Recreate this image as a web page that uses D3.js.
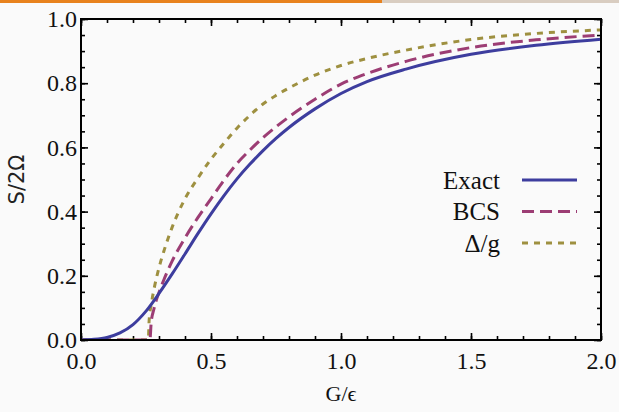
<!DOCTYPE html>
<html>
<head>
<meta charset="utf-8">
<title>S/2Omega vs G/eps</title>
<script src="https://cdn.jsdelivr.net/npm/d3@7"></script>
<style>
body { margin:0; background:#fafafa; }
svg { display:block; }
</style>
</head>
<body>
<script>
// exact solution
var exactG = [0, 0.05, 0.1, 0.15, 0.2, 0.25, 0.3, 0.35, 0.4, 0.45, 0.5, 0.55, 0.6, 0.65, 0.7, 0.75, 0.8, 0.9, 1.0, 1.1, 1.25, 1.5, 1.75, 2.0];
var exactS = [0, 0.002, 0.008, 0.022, 0.048, 0.090, 0.145, 0.205, 0.268, 0.332, 0.393, 0.450, 0.502, 0.548, 0.590, 0.628, 0.662, 0.720, 0.768, 0.805, 0.844, 0.890, 0.918, 0.937];

// BCS
var bcsG = [0, 0.265, 0.27, 0.28, 0.29, 0.3, 0.32, 0.35, 0.4, 0.45, 0.5, 0.55, 0.6, 0.65, 0.7, 0.75, 0.8, 0.9, 1.0, 1.1, 1.25, 1.5, 1.75, 2.0];
var bcsS = [0, 0, 0.055, 0.095, 0.125, 0.148, 0.19, 0.245, 0.318, 0.382, 0.44, 0.498, 0.55, 0.592, 0.630, 0.664, 0.695, 0.750, 0.797, 0.830, 0.868, 0.911, 0.935, 0.950];

// Delta/g
var gapG = [0, 0.259, 0.262, 0.27, 0.28, 0.3, 0.32, 0.35, 0.4, 0.45, 0.5, 0.55, 0.6, 0.65, 0.7, 0.75, 0.8, 0.9, 1.0, 1.1, 1.25, 1.5, 1.75, 2.0];
var gapS = [0, 0, 0.06, 0.11, 0.155, 0.225, 0.28, 0.35, 0.44, 0.505, 0.563, 0.613, 0.660, 0.700, 0.735, 0.762, 0.785, 0.825, 0.855, 0.877, 0.903, 0.936, 0.955, 0.966];

var xTicks = [0, 0.5, 1.0, 1.5, 2.0];
var yTicks = [0, 0.2, 0.4, 0.6, 0.8, 1.0];
var legendNames = ["Exact", "BCS", "\u0394/g"];

var W = 619, H = 412;
var m = {left:81, right:18, top:19, bottom:72};
var SERIF = "'Liberation Serif', 'DejaVu Serif', Times, serif";

var svg = d3.select("body").append("svg").attr("width", W).attr("height", H);

// top strip
svg.append("rect").attr("x",0).attr("y",0).attr("width",382).attr("height",3).attr("fill","#e8821e");
svg.append("rect").attr("x",382).attr("y",0).attr("width",W-382).attr("height",3).attr("fill","#d9cdc1");

var x = d3.scaleLinear().domain([0,2]).range([m.left, W-m.right]);
var y = d3.scaleLinear().domain([0,1]).range([H-m.bottom, m.top]);

var fmt = d3.format(".1f");

function styleAxis(g, labels){
  g.select(".domain").remove();
  g.attr("font-family", SERIF).attr("font-size", 24);
  g.selectAll(".tick line").attr("stroke","#000").attr("stroke-width",1.6);
  if(labels){
    g.selectAll(".tick text").attr("fill","#111");
  }
}

var xMinor = d3.range(0, 2.0001, 0.1);
var yMinor = d3.range(0, 1.0001, 0.05);

// minor ticks, all four sides
svg.append("g").attr("transform","translate(0,"+y(0)+")")
  .call(d3.axisBottom(x).tickValues(xMinor).tickSize(-4).tickFormat(""))
  .call(function(g){ styleAxis(g,false); });
svg.append("g").attr("transform","translate(0,"+y(1)+")")
  .call(d3.axisTop(x).tickValues(xMinor).tickSize(-4).tickFormat(""))
  .call(function(g){ styleAxis(g,false); });
svg.append("g").attr("transform","translate("+x(0)+",0)")
  .call(d3.axisLeft(y).tickValues(yMinor).tickSize(-4).tickFormat(""))
  .call(function(g){ styleAxis(g,false); });
svg.append("g").attr("transform","translate("+x(2)+",0)")
  .call(d3.axisRight(y).tickValues(yMinor).tickSize(-4).tickFormat(""))
  .call(function(g){ styleAxis(g,false); });

// major ticks
svg.append("g").attr("transform","translate(0,"+y(0)+")")
  .call(d3.axisBottom(x).tickValues(xTicks).tickSize(-7).tickPadding(12).tickFormat(fmt))
  .call(function(g){ styleAxis(g,true); });
svg.append("g").attr("transform","translate(0,"+y(1)+")")
  .call(d3.axisTop(x).tickValues(xTicks).tickSize(-7).tickFormat(""))
  .call(function(g){ styleAxis(g,false); });
svg.append("g").attr("transform","translate("+x(0)+",0)")
  .call(d3.axisLeft(y).tickValues(yTicks).tickSize(-7).tickPadding(4).tickFormat(fmt))
  .call(function(g){ styleAxis(g,true); });
svg.append("g").attr("transform","translate("+x(2)+",0)")
  .call(d3.axisRight(y).tickValues(yTicks).tickSize(-7).tickFormat(""))
  .call(function(g){ styleAxis(g,false); });

// curves
svg.append("clipPath").attr("id","plotclip").append("rect")
  .attr("x",x(0)).attr("y",y(1)).attr("width",x(2)-x(0)).attr("height",y(0)-y(1));

var series = [
  {g:exactG, s:exactS, color:"#3d3d9e", dash:null},
  {g:bcsG, s:bcsS, color:"#9c3d74", dash:"12,6"},
  {g:gapG, s:gapS, color:"#9e9040", dash:"6,6"}
];

var line = d3.line()
  .x(function(d){ return x(d[0]); })
  .y(function(d){ return y(d[1]); })
  .curve(d3.curveMonotoneX);

var curves = svg.append("g").attr("clip-path","url(#plotclip)");
series.slice().reverse().forEach(function(sr){
  curves.append("path")
    .datum(d3.zip(sr.g, sr.s))
    .attr("d", line)
    .attr("fill","none")
    .attr("stroke", sr.color)
    .attr("stroke-width", 3)
    .attr("stroke-dasharray", sr.dash);
});

// frame
svg.append("rect")
  .attr("x",x(0)).attr("y",y(1)).attr("width",x(2)-x(0)).attr("height",y(0)-y(1))
  .attr("fill","none").attr("stroke","#000").attr("stroke-width",2);

// legend
var leg = svg.append("g").attr("font-family", SERIF).attr("font-size", 25);
legendNames.forEach(function(name, i){
  var ly = 180 + i*31.5;
  leg.append("text").attr("x",500).attr("y",ly).attr("dy","0.35em")
    .attr("text-anchor","end").attr("fill","#111")
    .text(name);
  leg.append("line").attr("x1",522).attr("x2",577).attr("y1",ly).attr("y2",ly)
    .attr("stroke",series[i].color).attr("stroke-width",3)
    .attr("stroke-dasharray",series[i].dash);
});

// axis titles
svg.append("text").attr("x",x(1)).attr("y",401)
  .attr("text-anchor","middle").attr("font-family",SERIF).attr("font-size",22).attr("fill","#111")
  .text("G/\u03f5");
svg.append("text").attr("transform","translate(24,"+y(0.5)+") rotate(-90)")
  .attr("text-anchor","middle").attr("font-family","'DejaVu Sans', sans-serif").attr("font-size",21).attr("fill","#222")
  .text("S/2\u03a9");
</script>
</body>
</html>
